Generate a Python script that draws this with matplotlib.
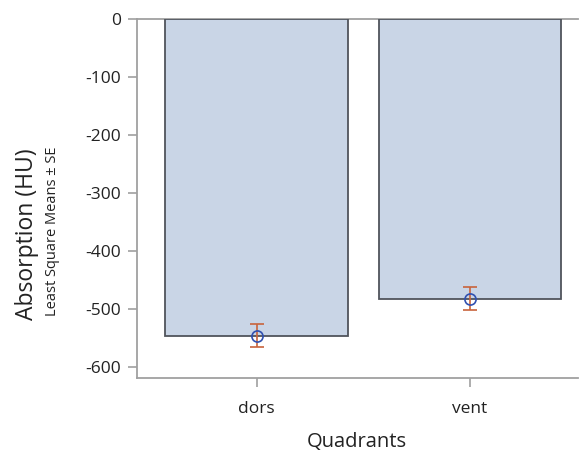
import matplotlib.pyplot as plt
import numpy as np

# Dados
quadrants = ['dors', 'vent']
ls_means = [-546, -482]
se = [20, 20]
yticks = [0, -100, -200, -300, -400, -500, -600]

plt.rcParams['font.family'] = ['Open Sans', 'DejaVu Sans']

fig = plt.figure(figsize=(5.79, 4.54), dpi=100)
ax = fig.add_axes([137 / 579, 76 / 454, 441 / 579, 359 / 454])

x = np.arange(len(quadrants))
ax.bar(x, ls_means, width=0.857, color='#c9d5e6', edgecolor='#50545c', linewidth=1.3, zorder=2)
ax.errorbar(x, ls_means, yerr=se, fmt='none', ecolor='#c8643c', elinewidth=1.2,
            capsize=5, capthick=1.2, zorder=3)
ax.plot(x, ls_means, 'o', mfc='none', mec='#3050b0', mew=1.2, ms=8, zorder=4)

ax.axhline(0, color='#a0a0a0', linewidth=1.3, zorder=1, clip_on=False)

ax.set_xlim(-0.56, 1.506)
ax.set_ylim(-619, 0)
ax.set_yticks(yticks)
ax.set_yticklabels([str(t) for t in yticks])
ax.set_xticks(x)
ax.set_xticklabels(quadrants)

for s in ['top', 'right']:
    ax.spines[s].set_visible(False)
for s in ['left', 'bottom']:
    ax.spines[s].set_color('#a0a0a0')
    ax.spines[s].set_linewidth(1.3)

ax.tick_params(axis='both', colors='#a0a0a0', labelcolor='#222222', labelsize=12.5,
               length=6.5, width=1.2, direction='out')
ax.tick_params(axis='y', pad=5)
ax.tick_params(axis='x', pad=10)

fig.text(27 / 579, 1 - 234 / 454, 'Absorption (HU)', rotation=90, ha='center', va='center',
         fontsize=16.5, color='#222222')
fig.text(53 / 579, 1 - 231 / 454, 'Least Square Means ± SE', rotation=90, ha='center', va='center',
         fontsize=10.5, color='#222222')
fig.text(357 / 579, 1 - 447 / 454, 'Quadrants', ha='center', va='baseline',
         fontsize=14.5, color='#222222')

plt.savefig('out.png', dpi=100)
plt.close()
